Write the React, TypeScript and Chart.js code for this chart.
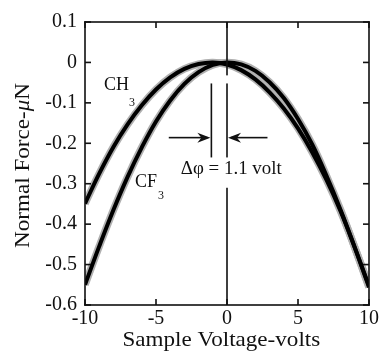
import React, { useEffect, useRef } from "react";
import { Chart, registerables } from "chart.js";

Chart.register(...registerables);

// Sample voltage (V)
const volts = [-10, -9, -8, -7, -6, -5, -4, -3, -2, -1, 0, 1, 2, 3, 4, 5, 6, 7, 8, 9, 10];
// Normal force (μN)
const ch3Force = [-0.349, -0.275, -0.209, -0.153, -0.106, -0.067, -0.037, -0.016, -0.004, 0.0, -0.005, -0.019, -0.042, -0.074, -0.114, -0.163, -0.222, -0.29, -0.368, -0.458, -0.553];
const cf3Force = [-0.55, -0.455, -0.365, -0.283, -0.21, -0.146, -0.094, -0.053, -0.024, -0.006, 0.0, -0.005, -0.021, -0.049, -0.088, -0.14, -0.203, -0.28, -0.365, -0.458, -0.556];

const xLimits = [-10, 10];
const yLimits = [-0.6, 0.1];
const xStep = 5;
const yStep = 0.1;

// annotation (data units)
const peakShift = [-1.1, 0];
const arrowLevel = -0.186;
const arrowTails = [-4.1, 2.85];
const deltaLabel = "Δφ = 1.1 volt";
const xTitle = "Sample Voltage-volts";
const yTitleParts = ["Normal Force-", "μ", "N"];

const SERIF = "'Liberation Serif', 'Times New Roman', serif";

const overlay = {
  id: "overlay",
  afterDraw(chart: any) {
    const ctx: CanvasRenderingContext2D = chart.ctx;
    const xs = chart.scales.x;
    const ys = chart.scales.y;
    const px = (v: number) => xs.getPixelForValue(v);
    const py = (v: number) => ys.getPixelForValue(v);
    const L = px(xLimits[0]);
    const R = px(xLimits[1]);
    const T = py(yLimits[1]);
    const B = py(yLimits[0]);
    ctx.save();
    ctx.fillStyle = "#111111";
    const lw = 1.6;
    // box
    ctx.fillRect(L - lw / 2, T - lw / 2, R - L + lw, lw);
    ctx.fillRect(L - lw / 2, B - lw / 2, R - L + lw, lw);
    ctx.fillRect(L - lw / 2, T - lw / 2, lw, B - T + lw);
    ctx.fillRect(R - lw / 2, T - lw / 2, lw, B - T + lw);
    // ticks inward
    const tl = 6;
    for (let v = xLimits[0]; v <= xLimits[1]; v += xStep) {
      const x = px(v);
      ctx.fillRect(x - lw / 2, B - tl, lw, tl);
      ctx.fillRect(x - lw / 2, T, lw, tl);
    }
    const nY = Math.round((yLimits[1] - yLimits[0]) / yStep);
    for (let k = 0; k <= nY; k++) {
      const y = py(yLimits[0] + k * yStep);
      ctx.fillRect(L, y - lw / 2, tl, lw);
      ctx.fillRect(R - tl, y - lw / 2, tl, lw);
    }
    // zero line segments and annotation verticals
    const vline = (xv: number, y1: number, y2: number) => {
      const x = px(xv);
      ctx.fillRect(x - lw / 2, py(y1), lw, py(y2) - py(y1));
    };
    vline(0, 0.1, -0.032);
    vline(0, -0.31, -0.6);
    peakShift.forEach((v) => vline(v, -0.052, -0.235));
    // arrow shafts
    const ay = py(arrowLevel);
    ctx.fillRect(px(arrowTails[0]), ay - lw / 2, px(peakShift[0]) - 4 - px(arrowTails[0]), lw);
    ctx.fillRect(px(peakShift[1]) + 4, ay - lw / 2, px(arrowTails[1]) - px(peakShift[1]) - 4, lw);
    // arrow heads
    const head = (tipX: number, dir: number) => {
      ctx.beginPath();
      ctx.moveTo(tipX, ay);
      ctx.lineTo(tipX - dir * 13, ay - 5);
      ctx.lineTo(tipX - dir * 9, ay);
      ctx.lineTo(tipX - dir * 13, ay + 5);
      ctx.closePath();
      ctx.fill();
    };
    head(px(peakShift[0]) - 1, 1);
    head(px(peakShift[1]) + 1, -1);

    // stretched text helper (text drawn wider along its direction)
    const stretched = (text: string, x: number, y: number, font: string, sx: number, align: "left" | "center") => {
      ctx.save();
      ctx.font = font;
      ctx.textBaseline = "alphabetic";
      ctx.textAlign = "left";
      const w = ctx.measureText(text).width * sx;
      const left = align === "center" ? x - w / 2 : x;
      ctx.translate(left, y);
      ctx.scale(sx, 1);
      ctx.fillText(text, 0, 0);
      ctx.restore();
      return w;
    };

    // delta label
    stretched(deltaLabel, px(0.3), py(-0.275), `18px ${SERIF}`, 1.05, "center");

    // curve labels
    let x0 = px(-8.66);
    let w = stretched("CH", x0, py(-0.068), `18px ${SERIF}`, 1.0, "left");
    stretched("3", x0 + w, py(-0.068) + 16, `12px ${SERIF}`, 1.0, "left");
    x0 = px(-6.48);
    w = stretched("CF", x0, py(-0.309), `18px ${SERIF}`, 1.0, "left");
    stretched("3", x0 + w + 1, py(-0.309) + 12, `12px ${SERIF}`, 1.0, "left");

    // x title
    stretched(xTitle, px(-0.4), 346, `21px ${SERIF}`, 1.1, "center");

    // y title (rotated, italic mu)
    ctx.translate(23, (T + B) / 2 + 2);
    ctx.rotate(-Math.PI / 2);
    ctx.scale(1.1, 1);
    ctx.textAlign = "left";
    ctx.textBaseline = "middle";
    const fonts = [`21px ${SERIF}`, `italic 21px ${SERIF}`, `21px ${SERIF}`];
    let total = 0;
    const widths = yTitleParts.map((p, i) => {
      ctx.font = fonts[i];
      const m = ctx.measureText(p).width;
      total += m;
      return m;
    });
    let cx = -total / 2;
    yTitleParts.forEach((p, i) => {
      ctx.font = fonts[i];
      ctx.fillText(p, cx, 0);
      cx += widths[i];
    });
    ctx.restore();
  },
};

export default function App() {
  const ref = useRef<HTMLCanvasElement | null>(null);
  useEffect(() => {
    document.body.style.margin = "0";
    const canvas = ref.current!;
    const pts = (ys: number[]) => volts.map((v, i) => ({ x: v, y: ys[i] }));
    const core = { borderColor: "#000000", borderWidth: 4, pointRadius: 0, tension: 0.4, fill: false, order: 0 };
    const halo = { borderColor: "#b0b0b0", borderWidth: 7.5, pointRadius: 0, tension: 0.4, fill: false, order: 1 };
    const chart = new Chart(canvas, {
      type: "line",
      data: {
        datasets: [
          { ...core, data: pts(ch3Force) },
          { ...core, data: pts(cf3Force) },
          { ...halo, data: pts(ch3Force) },
          { ...halo, data: pts(cf3Force) },
        ],
      },
      options: {
        animation: false,
        responsive: false,
        events: [],
        layout: { padding: { left: 0, top: 22, right: 10, bottom: 0 } },
        plugins: { legend: { display: false }, tooltip: { enabled: false } },
        scales: {
          x: {
            type: "linear",
            min: xLimits[0],
            max: xLimits[1],
            grid: { display: false, drawTicks: false },
            border: { display: false },
            ticks: {
              stepSize: xStep,
              padding: 2,
              color: "#111",
              font: { family: SERIF, size: 20 },
              maxRotation: 0,
              autoSkip: false,
            },
            afterFit: (s: any) => {
              s.height = 47;
              s.paddingLeft = 0;
              s.paddingRight = 0;
            },
          },
          y: {
            type: "linear",
            min: yLimits[0],
            max: yLimits[1],
            grid: { display: false, drawTicks: false },
            border: { display: false },
            ticks: {
              stepSize: yStep,
              padding: 8,
              color: "#111",
              font: { family: SERIF, size: 20 },
              callback: (v: any) => String(Number(Number(v).toFixed(1))),
            },
            afterFit: (s: any) => {
              s.width = 85;
              s.paddingTop = 0;
              s.paddingBottom = 0;
            },
          },
        },
      },
      plugins: [overlay],
    } as any);
    return () => chart.destroy();
  }, []);
  return (
    <div style={{ position: "absolute", left: 0, top: 0, width: 379, height: 352, background: "#fff" }}>
      <canvas ref={ref} width={379} height={352} />
    </div>
  );
}
